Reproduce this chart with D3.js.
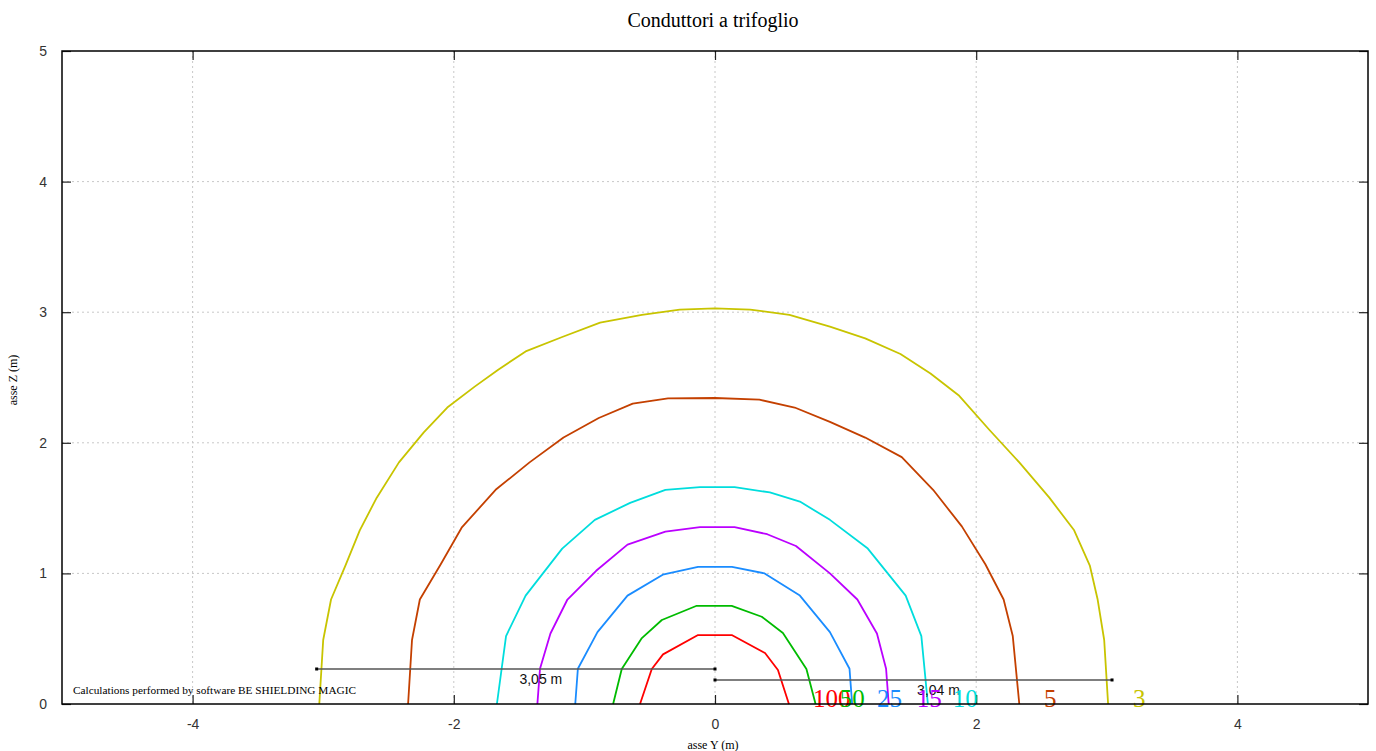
<!DOCTYPE html>
<html><head><meta charset="utf-8">
<script src="https://cdn.jsdelivr.net/npm/d3@7/dist/d3.min.js"></script>
<style>body{margin:0;background:#fff}svg{display:block}</style>
</head><body>
<svg id="c" width="1376" height="751"></svg>
<script>
const xTicks = [-4,-2,0,2,4];
const yTicks = [0,1,2,3,4,5];
const levels = ["100","50","25","15","10","5","3"];
const colors = ["#ff0000","#00bb00","#1a8cff","#bb00ff","#00dddd","#c44000","#c8c400"];
const labelX = [0.75,0.956,1.24,1.545,1.82,2.52,3.2];
const c100 = [[-0.574,0],[-0.484,0.268],[-0.398,0.38],[-0.13,0.528],[0.128,0.528],[0.383,0.39],[0.482,0.26],[0.566,0]];
const c50 = [[-0.78,0],[-0.714,0.268],[-0.56,0.505],[-0.407,0.643],[-0.14,0.752],[0.128,0.752],[0.358,0.668],[0.52,0.544],[0.70,0.268],[0.77,0]];
const c25 = [[-1.07,0],[-1.05,0.27],[-0.9,0.55],[-0.67,0.83],[-0.4,0.99],[-0.13,1.05],[0.13,1.05],[0.38,1.0],[0.65,0.83],[0.88,0.55],[1.03,0.27],[1.05,0]];
const c15 = [[-1.36,0],[-1.34,0.27],[-1.26,0.54],[-1.13,0.8],[-0.91,1.02],[-0.67,1.22],[-0.38,1.32],[-0.115,1.355],[0.15,1.355],[0.4,1.30],[0.62,1.21],[0.88,1.0],[1.09,0.8],[1.24,0.54],[1.31,0.27],[1.33,0]];
const c10 = [[-1.67,0],[-1.60,0.52],[-1.45,0.83],[-1.17,1.19],[-0.92,1.41],[-0.65,1.54],[-0.38,1.64],[-0.115,1.66],[0.15,1.66],[0.42,1.62],[0.65,1.55],[0.88,1.41],[1.17,1.19],[1.46,0.83],[1.58,0.52],[1.63,0]];
const c5 = [[-2.35,0],[-2.32,0.49],[-2.26,0.80],[-2.10,1.07],[-1.94,1.35],[-1.68,1.64],[-1.42,1.85],[-1.16,2.04],[-0.89,2.19],[-0.63,2.30],[-0.36,2.34],[0,2.343],[0.34,2.33],[0.61,2.27],[0.88,2.16],[1.15,2.04],[1.43,1.89],[1.67,1.64],[1.89,1.36],[2.07,1.07],[2.21,0.80],[2.28,0.52],[2.33,0]];
const c3 = [[-3.03,0],[-3.00,0.49],[-2.94,0.80],[-2.83,1.06],[-2.72,1.33],[-2.59,1.58],[-2.42,1.85],[-2.23,2.08],[-2.05,2.27],[-1.84,2.43],[-1.66,2.56],[-1.45,2.70],[-1.17,2.81],[-0.88,2.92],[-0.56,2.98],[-0.27,3.02],[0,3.03],[0.27,3.02],[0.57,2.98],[0.88,2.89],[1.15,2.80],[1.42,2.68],[1.65,2.53],[1.87,2.36],[2.10,2.10],[2.33,1.85],[2.56,1.58],[2.75,1.33],[2.87,1.06],[2.93,0.80],[2.98,0.49],[3.01,0]];
const curves = [c100,c50,c25,c15,c10,c5,c3];
const dims = [{x0:-3.05,x1:0,z:0.268,label:"3,05 m"},{x0:0,x1:3.04,z:0.184,label:"3,04 m"}];

const svg = d3.select("#c");
const L=62,R=1368,T=51,B=704;
const x = d3.scaleLinear().domain([-5,5]).range([L,R]);
const y = d3.scaleLinear().domain([0,5]).range([B,T]);
const fmt = d=>String(d);

// grid
const g = svg.append("g");
g.selectAll(".gx").data(xTicks).join("line").attr("x1",d=>x(d)).attr("x2",d=>x(d)).attr("y1",T).attr("y2",B)
 .attr("stroke","#c8c8c8").attr("stroke-dasharray","2,3");
g.selectAll(".gy").data(yTicks.filter(d=>d>0&&d<5)).join("line").attr("y1",d=>y(d)).attr("y2",d=>y(d)).attr("x1",L).attr("x2",R)
 .attr("stroke","#c8c8c8").attr("stroke-dasharray","2,3");

// axes with inward ticks
const ax = svg.append("g").attr("transform",`translate(0,${B})`).call(d3.axisBottom(x).tickValues(xTicks).tickFormat(fmt).tickSizeInner(-9).tickSizeOuter(0).tickPadding(15));
const axT = svg.append("g").attr("transform",`translate(0,${T})`).call(d3.axisTop(x).tickValues(xTicks).tickSizeInner(-9).tickSizeOuter(0).tickFormat(""));
const ay = svg.append("g").attr("transform",`translate(${L},0)`).call(d3.axisLeft(y).tickValues(yTicks).tickFormat(fmt).tickSizeInner(-9).tickSizeOuter(0).tickPadding(15));
const ayR = svg.append("g").attr("transform",`translate(${R},0)`).call(d3.axisRight(y).tickValues(yTicks).tickSizeInner(-9).tickSizeOuter(0).tickFormat(""));
[ax,axT,ay,ayR].forEach(a=>{a.select(".domain").remove();a.selectAll(".tick line").attr("stroke","#222").attr("stroke-width",1.2);
 a.selectAll("text").attr("font-family","Liberation Sans, Arial, sans-serif").attr("font-size",14).attr("fill","#333");});

// curves
const line = d3.line().x(d=>x(d[0])).y(d=>y(d[1]));
svg.append("g").selectAll("path").data(curves).join("path").attr("d",line).attr("fill","none")
 .attr("stroke",(d,i)=>colors[i]).attr("stroke-width",1.8).attr("stroke-linejoin","round");

// dimension lines
const dg = svg.append("g");
dims.forEach(d=>{
 dg.append("line").attr("x1",x(d.x0)).attr("x2",x(d.x1)).attr("y1",y(d.z)).attr("y2",y(d.z)).attr("stroke","#555").attr("stroke-width",1.5);
 [d.x0,d.x1].forEach(v=>dg.append("rect").attr("x",x(v)-1.5).attr("y",y(d.z)-1.5).attr("width",3).attr("height",3).attr("fill","#000"));
 dg.append("text").attr("x",(x(d.x0)+x(d.x1))/2+25).attr("y",y(d.z)+15).attr("text-anchor","middle")
  .attr("font-family","Liberation Sans, Arial, sans-serif").attr("font-size",14).attr("fill","#111").text(d.label);
});

// labels
svg.append("g").selectAll("text").data(levels).join("text").attr("x",(d,i)=>x(labelX[i])).attr("y",B+3)
 .attr("font-family","Liberation Serif, Times New Roman, serif").attr("font-size",25).attr("fill",(d,i)=>colors[i]).text(d=>d);

// frame
svg.append("rect").attr("x",L).attr("y",T).attr("width",R-L).attr("height",B-T).attr("fill","none").attr("stroke","#000").attr("stroke-width",1.5);

svg.append("text").attr("x",73).attr("y",694).attr("font-family","Liberation Serif, Times New Roman, serif").attr("font-size",11.3).attr("fill","#000")
 .text("Calculations performed by software BE SHIELDING MAGIC");
svg.append("text").attr("x",713).attr("y",27).attr("text-anchor","middle").attr("font-family","Liberation Serif, Times New Roman, serif").attr("font-size",20).attr("fill","#000").text("Conduttori a trifoglio");
svg.append("text").attr("x",713).attr("y",749).attr("text-anchor","middle").attr("font-family","Liberation Serif, Times New Roman, serif").attr("font-size",12).attr("fill","#000").text("asse Y (m)");
svg.append("text").attr("transform","translate(17,380) rotate(-90)").attr("text-anchor","middle").attr("font-family","Liberation Serif, Times New Roman, serif").attr("font-size",12).attr("fill","#000").text("asse Z (m)");
</script>
</body></html>
